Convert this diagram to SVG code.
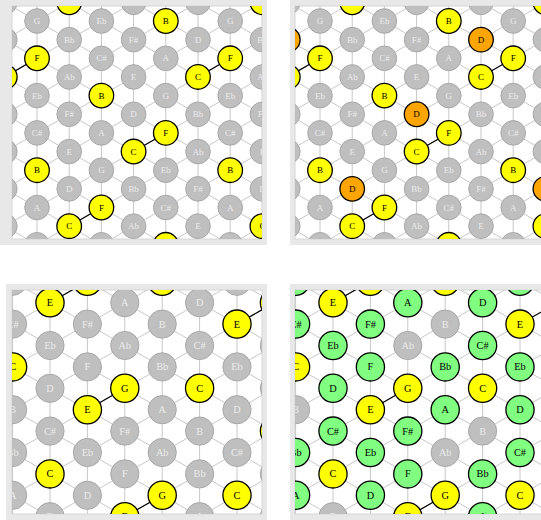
<svg xmlns="http://www.w3.org/2000/svg" xmlns:xlink="http://www.w3.org/1999/xlink" width="541" height="520" viewBox="0 0 541 520">
<style>
text{font-family:"Liberation Serif","Times New Roman",serif;text-anchor:middle;dominant-baseline:central}
.s1 text{font-size:9px}
.s3 text{font-size:10.3px}
.n circle{fill:#bfbfbf;stroke:#a8a8a8;stroke-width:1}
.n text{fill:#ececec}
.y circle{fill:#ffff00;stroke:#000;stroke-width:1.3}
.o circle{fill:#ffa500;stroke:#000;stroke-width:1.3}
.g circle{fill:#80ff80;stroke:#000;stroke-width:1.3}
.y text,.o text,.g text{fill:#000}
.lat{fill:none;stroke:#c8c8c8;stroke-width:1}
.lk{fill:none;stroke:#000;stroke-width:1.2}
.frame{fill:#e8e8e8}
.inner{fill:#fff;stroke:#d6d6d6;stroke-width:1}
</style>
<defs>
<clipPath id="c1"><rect x="12" y="6" width="250" height="233"/></clipPath>
<clipPath id="c3"><rect x="12" y="290" width="250" height="224"/></clipPath>
<path id="lat1" class="lat" d="M4.8 0V250M37 0V250M69.2 0V250M101.4 0V250M133.6 0V250M165.8 0V250M198 0V250M230.2 0V250M262.4 0V250M0 -149.63L270 6.75M0 -112.33L270 44.05M0 -75.03L270 81.35M0 -37.73L270 118.65M0 -0.43L270 155.95M0 36.87L270 193.25M0 74.17L270 230.55M0 111.47L270 267.85M0 148.77L270 305.15M0 186.07L270 342.45M0 223.37L270 379.75M0 42.43L270 -113.95M0 79.73L270 -76.65M0 117.03L270 -39.35M0 154.33L270 -2.05M0 191.63L270 35.25M0 228.93L270 72.55M0 266.23L270 109.85M0 303.53L270 147.15M0 340.83L270 184.45M0 378.13L270 221.75"/>
<path id="lat3" class="lat" d="M12.6 280V520M50 280V520M87.4 280V520M124.8 280V520M162.2 280V520M199.6 280V520M237 280V520M274.4 280V520M0 145.69L275 303.05M0 188.49L275 345.85M0 231.29L275 388.65M0 274.09L275 431.45M0 316.89L275 474.25M0 359.69L275 517.05M0 402.49L275 559.85M0 445.29L275 602.65M0 488.09L275 645.45M0 331.31L275 173.95M0 374.11L275 216.75M0 416.91L275 259.55M0 459.71L275 302.35M0 502.51L275 345.15M0 545.31L275 387.95M0 588.11L275 430.75M0 630.91L275 473.55"/>
</defs>
<rect width="541" height="520" fill="#fff"/>

<!-- Panel 1 -->
<g id="panel1" class="s1">
<rect class="frame" x="0" y="0" width="267" height="245"/>
<rect class="inner" x="12" y="6" width="250" height="233"/>
<g clip-path="url(#c1)">
<g id="p1-connectors">
<use xlink:href="#lat1" href="#lat1"/>
<path class="lk" d="M4.8 76.95L37 58.3M69.2 226.15L101.4 207.5M133.6 151.55L165.8 132.9M198 76.95L230.2 58.3"/>
</g>
<g id="p1-nodes">
<g id="p1-m1-0" class="n"><circle cx="4.8" cy="2.35" r="12.3"/><text x="4.8" y="2.35">E</text></g>
<g id="p1-m1-1" class="n"><circle cx="4.8" cy="39.65" r="12.3"/><text x="4.8" y="39.65">D</text></g>
<g id="p1-m1-2" class="y"><circle cx="4.8" cy="76.95" r="12.3"/><text x="4.8" y="76.95">C</text></g>
<g id="p1-m1-3" class="n"><circle cx="4.8" cy="114.25" r="12.3"/><text x="4.8" y="114.25">Bb</text></g>
<g id="p1-m1-4" class="n"><circle cx="4.8" cy="151.55" r="12.3"/><text x="4.8" y="151.55">Ab</text></g>
<g id="p1-m1-5" class="n"><circle cx="4.8" cy="188.85" r="12.3"/><text x="4.8" y="188.85">F#</text></g>
<g id="p1-m1-6" class="n"><circle cx="4.8" cy="226.15" r="12.3"/><text x="4.8" y="226.15">E</text></g>
<g id="p1-0-0" class="n"><circle cx="37" cy="21" r="12.3"/><text x="37" y="21">G</text></g>
<g id="p1-0-1" class="y"><circle cx="37" cy="58.3" r="12.3"/><text x="37" y="58.3">F</text></g>
<g id="p1-0-2" class="n"><circle cx="37" cy="95.6" r="12.3"/><text x="37" y="95.6">Eb</text></g>
<g id="p1-0-3" class="n"><circle cx="37" cy="132.9" r="12.3"/><text x="37" y="132.9">C#</text></g>
<g id="p1-0-4" class="y"><circle cx="37" cy="170.2" r="12.3"/><text x="37" y="170.2">B</text></g>
<g id="p1-0-5" class="n"><circle cx="37" cy="207.5" r="12.3"/><text x="37" y="207.5">A</text></g>
<g id="p1-0-6" class="n"><circle cx="37" cy="244.8" r="12.3"/><text x="37" y="244.8">G</text></g>
<g id="p1-1-0" class="y"><circle cx="69.2" cy="2.35" r="12.3"/><text x="69.2" y="2.35">C</text></g>
<g id="p1-1-1" class="n"><circle cx="69.2" cy="39.65" r="12.3"/><text x="69.2" y="39.65">Bb</text></g>
<g id="p1-1-2" class="n"><circle cx="69.2" cy="76.95" r="12.3"/><text x="69.2" y="76.95">Ab</text></g>
<g id="p1-1-3" class="n"><circle cx="69.2" cy="114.25" r="12.3"/><text x="69.2" y="114.25">F#</text></g>
<g id="p1-1-4" class="n"><circle cx="69.2" cy="151.55" r="12.3"/><text x="69.2" y="151.55">E</text></g>
<g id="p1-1-5" class="n"><circle cx="69.2" cy="188.85" r="12.3"/><text x="69.2" y="188.85">D</text></g>
<g id="p1-1-6" class="y"><circle cx="69.2" cy="226.15" r="12.3"/><text x="69.2" y="226.15">C</text></g>
<g id="p1-2-0" class="n"><circle cx="101.4" cy="21" r="12.3"/><text x="101.4" y="21">Eb</text></g>
<g id="p1-2-1" class="n"><circle cx="101.4" cy="58.3" r="12.3"/><text x="101.4" y="58.3">C#</text></g>
<g id="p1-2-2" class="y"><circle cx="101.4" cy="95.6" r="12.3"/><text x="101.4" y="95.6">B</text></g>
<g id="p1-2-3" class="n"><circle cx="101.4" cy="132.9" r="12.3"/><text x="101.4" y="132.9">A</text></g>
<g id="p1-2-4" class="n"><circle cx="101.4" cy="170.2" r="12.3"/><text x="101.4" y="170.2">G</text></g>
<g id="p1-2-5" class="y"><circle cx="101.4" cy="207.5" r="12.3"/><text x="101.4" y="207.5">F</text></g>
<g id="p1-2-6" class="n"><circle cx="101.4" cy="244.8" r="12.3"/><text x="101.4" y="244.8">Eb</text></g>
<g id="p1-3-0" class="n"><circle cx="133.6" cy="2.35" r="12.3"/><text x="133.6" y="2.35">Ab</text></g>
<g id="p1-3-1" class="n"><circle cx="133.6" cy="39.65" r="12.3"/><text x="133.6" y="39.65">F#</text></g>
<g id="p1-3-2" class="n"><circle cx="133.6" cy="76.95" r="12.3"/><text x="133.6" y="76.95">E</text></g>
<g id="p1-3-3" class="n"><circle cx="133.6" cy="114.25" r="12.3"/><text x="133.6" y="114.25">D</text></g>
<g id="p1-3-4" class="y"><circle cx="133.6" cy="151.55" r="12.3"/><text x="133.6" y="151.55">C</text></g>
<g id="p1-3-5" class="n"><circle cx="133.6" cy="188.85" r="12.3"/><text x="133.6" y="188.85">Bb</text></g>
<g id="p1-3-6" class="n"><circle cx="133.6" cy="226.15" r="12.3"/><text x="133.6" y="226.15">Ab</text></g>
<g id="p1-4-0" class="y"><circle cx="165.8" cy="21" r="12.3"/><text x="165.8" y="21">B</text></g>
<g id="p1-4-1" class="n"><circle cx="165.8" cy="58.3" r="12.3"/><text x="165.8" y="58.3">A</text></g>
<g id="p1-4-2" class="n"><circle cx="165.8" cy="95.6" r="12.3"/><text x="165.8" y="95.6">G</text></g>
<g id="p1-4-3" class="y"><circle cx="165.8" cy="132.9" r="12.3"/><text x="165.8" y="132.9">F</text></g>
<g id="p1-4-4" class="n"><circle cx="165.8" cy="170.2" r="12.3"/><text x="165.8" y="170.2">Eb</text></g>
<g id="p1-4-5" class="n"><circle cx="165.8" cy="207.5" r="12.3"/><text x="165.8" y="207.5">C#</text></g>
<g id="p1-4-6" class="y"><circle cx="165.8" cy="244.8" r="12.3"/><text x="165.8" y="244.8">B</text></g>
<g id="p1-5-0" class="n"><circle cx="198" cy="2.35" r="12.3"/><text x="198" y="2.35">E</text></g>
<g id="p1-5-1" class="n"><circle cx="198" cy="39.65" r="12.3"/><text x="198" y="39.65">D</text></g>
<g id="p1-5-2" class="y"><circle cx="198" cy="76.95" r="12.3"/><text x="198" y="76.95">C</text></g>
<g id="p1-5-3" class="n"><circle cx="198" cy="114.25" r="12.3"/><text x="198" y="114.25">Bb</text></g>
<g id="p1-5-4" class="n"><circle cx="198" cy="151.55" r="12.3"/><text x="198" y="151.55">Ab</text></g>
<g id="p1-5-5" class="n"><circle cx="198" cy="188.85" r="12.3"/><text x="198" y="188.85">F#</text></g>
<g id="p1-5-6" class="n"><circle cx="198" cy="226.15" r="12.3"/><text x="198" y="226.15">E</text></g>
<g id="p1-6-0" class="n"><circle cx="230.2" cy="21" r="12.3"/><text x="230.2" y="21">G</text></g>
<g id="p1-6-1" class="y"><circle cx="230.2" cy="58.3" r="12.3"/><text x="230.2" y="58.3">F</text></g>
<g id="p1-6-2" class="n"><circle cx="230.2" cy="95.6" r="12.3"/><text x="230.2" y="95.6">Eb</text></g>
<g id="p1-6-3" class="n"><circle cx="230.2" cy="132.9" r="12.3"/><text x="230.2" y="132.9">C#</text></g>
<g id="p1-6-4" class="y"><circle cx="230.2" cy="170.2" r="12.3"/><text x="230.2" y="170.2">B</text></g>
<g id="p1-6-5" class="n"><circle cx="230.2" cy="207.5" r="12.3"/><text x="230.2" y="207.5">A</text></g>
<g id="p1-6-6" class="n"><circle cx="230.2" cy="244.8" r="12.3"/><text x="230.2" y="244.8">G</text></g>
<g id="p1-7-0" class="y"><circle cx="262.4" cy="2.35" r="12.3"/><text x="262.4" y="2.35">C</text></g>
<g id="p1-7-1" class="n"><circle cx="262.4" cy="39.65" r="12.3"/><text x="262.4" y="39.65">Bb</text></g>
<g id="p1-7-2" class="n"><circle cx="262.4" cy="76.95" r="12.3"/><text x="262.4" y="76.95">Ab</text></g>
<g id="p1-7-3" class="n"><circle cx="262.4" cy="114.25" r="12.3"/><text x="262.4" y="114.25">F#</text></g>
<g id="p1-7-4" class="n"><circle cx="262.4" cy="151.55" r="12.3"/><text x="262.4" y="151.55">E</text></g>
<g id="p1-7-5" class="n"><circle cx="262.4" cy="188.85" r="12.3"/><text x="262.4" y="188.85">D</text></g>
<g id="p1-7-6" class="y"><circle cx="262.4" cy="226.15" r="12.3"/><text x="262.4" y="226.15">C</text></g>
</g>
</g>
</g>

<!-- Panel 2 -->
<g id="panel2" class="s1">
<rect class="frame" x="290" y="0" width="260" height="245"/>
<g transform="translate(283,0)">
<rect class="inner" x="12" y="6" width="270" height="233"/>
<g clip-path="url(#c1)">
<g id="p2-connectors">
<use xlink:href="#lat1" href="#lat1"/>
<path class="lk" d="M4.8 76.95L37 58.3M69.2 226.15L101.4 207.5M133.6 151.55L165.8 132.9M198 76.95L230.2 58.3"/>
</g>
<g id="p2-nodes">
<g id="p2-m1-0" class="n"><circle cx="4.8" cy="2.35" r="12.3"/><text x="4.8" y="2.35">E</text></g>
<g id="p2-m1-1" class="o"><circle cx="4.8" cy="39.65" r="12.3"/><text x="4.8" y="39.65">D</text></g>
<g id="p2-m1-2" class="y"><circle cx="4.8" cy="76.95" r="12.3"/><text x="4.8" y="76.95">C</text></g>
<g id="p2-m1-3" class="n"><circle cx="4.8" cy="114.25" r="12.3"/><text x="4.8" y="114.25">Bb</text></g>
<g id="p2-m1-4" class="n"><circle cx="4.8" cy="151.55" r="12.3"/><text x="4.8" y="151.55">Ab</text></g>
<g id="p2-m1-5" class="n"><circle cx="4.8" cy="188.85" r="12.3"/><text x="4.8" y="188.85">F#</text></g>
<g id="p2-m1-6" class="n"><circle cx="4.8" cy="226.15" r="12.3"/><text x="4.8" y="226.15">E</text></g>
<g id="p2-0-0" class="n"><circle cx="37" cy="21" r="12.3"/><text x="37" y="21">G</text></g>
<g id="p2-0-1" class="y"><circle cx="37" cy="58.3" r="12.3"/><text x="37" y="58.3">F</text></g>
<g id="p2-0-2" class="n"><circle cx="37" cy="95.6" r="12.3"/><text x="37" y="95.6">Eb</text></g>
<g id="p2-0-3" class="n"><circle cx="37" cy="132.9" r="12.3"/><text x="37" y="132.9">C#</text></g>
<g id="p2-0-4" class="y"><circle cx="37" cy="170.2" r="12.3"/><text x="37" y="170.2">B</text></g>
<g id="p2-0-5" class="n"><circle cx="37" cy="207.5" r="12.3"/><text x="37" y="207.5">A</text></g>
<g id="p2-0-6" class="n"><circle cx="37" cy="244.8" r="12.3"/><text x="37" y="244.8">G</text></g>
<g id="p2-1-0" class="y"><circle cx="69.2" cy="2.35" r="12.3"/><text x="69.2" y="2.35">C</text></g>
<g id="p2-1-1" class="n"><circle cx="69.2" cy="39.65" r="12.3"/><text x="69.2" y="39.65">Bb</text></g>
<g id="p2-1-2" class="n"><circle cx="69.2" cy="76.95" r="12.3"/><text x="69.2" y="76.95">Ab</text></g>
<g id="p2-1-3" class="n"><circle cx="69.2" cy="114.25" r="12.3"/><text x="69.2" y="114.25">F#</text></g>
<g id="p2-1-4" class="n"><circle cx="69.2" cy="151.55" r="12.3"/><text x="69.2" y="151.55">E</text></g>
<g id="p2-1-5" class="o"><circle cx="69.2" cy="188.85" r="12.3"/><text x="69.2" y="188.85">D</text></g>
<g id="p2-1-6" class="y"><circle cx="69.2" cy="226.15" r="12.3"/><text x="69.2" y="226.15">C</text></g>
<g id="p2-2-0" class="n"><circle cx="101.4" cy="21" r="12.3"/><text x="101.4" y="21">Eb</text></g>
<g id="p2-2-1" class="n"><circle cx="101.4" cy="58.3" r="12.3"/><text x="101.4" y="58.3">C#</text></g>
<g id="p2-2-2" class="y"><circle cx="101.4" cy="95.6" r="12.3"/><text x="101.4" y="95.6">B</text></g>
<g id="p2-2-3" class="n"><circle cx="101.4" cy="132.9" r="12.3"/><text x="101.4" y="132.9">A</text></g>
<g id="p2-2-4" class="n"><circle cx="101.4" cy="170.2" r="12.3"/><text x="101.4" y="170.2">G</text></g>
<g id="p2-2-5" class="y"><circle cx="101.4" cy="207.5" r="12.3"/><text x="101.4" y="207.5">F</text></g>
<g id="p2-2-6" class="n"><circle cx="101.4" cy="244.8" r="12.3"/><text x="101.4" y="244.8">Eb</text></g>
<g id="p2-3-0" class="n"><circle cx="133.6" cy="2.35" r="12.3"/><text x="133.6" y="2.35">Ab</text></g>
<g id="p2-3-1" class="n"><circle cx="133.6" cy="39.65" r="12.3"/><text x="133.6" y="39.65">F#</text></g>
<g id="p2-3-2" class="n"><circle cx="133.6" cy="76.95" r="12.3"/><text x="133.6" y="76.95">E</text></g>
<g id="p2-3-3" class="o"><circle cx="133.6" cy="114.25" r="12.3"/><text x="133.6" y="114.25">D</text></g>
<g id="p2-3-4" class="y"><circle cx="133.6" cy="151.55" r="12.3"/><text x="133.6" y="151.55">C</text></g>
<g id="p2-3-5" class="n"><circle cx="133.6" cy="188.85" r="12.3"/><text x="133.6" y="188.85">Bb</text></g>
<g id="p2-3-6" class="n"><circle cx="133.6" cy="226.15" r="12.3"/><text x="133.6" y="226.15">Ab</text></g>
<g id="p2-4-0" class="y"><circle cx="165.8" cy="21" r="12.3"/><text x="165.8" y="21">B</text></g>
<g id="p2-4-1" class="n"><circle cx="165.8" cy="58.3" r="12.3"/><text x="165.8" y="58.3">A</text></g>
<g id="p2-4-2" class="n"><circle cx="165.8" cy="95.6" r="12.3"/><text x="165.8" y="95.6">G</text></g>
<g id="p2-4-3" class="y"><circle cx="165.8" cy="132.9" r="12.3"/><text x="165.8" y="132.9">F</text></g>
<g id="p2-4-4" class="n"><circle cx="165.8" cy="170.2" r="12.3"/><text x="165.8" y="170.2">Eb</text></g>
<g id="p2-4-5" class="n"><circle cx="165.8" cy="207.5" r="12.3"/><text x="165.8" y="207.5">C#</text></g>
<g id="p2-4-6" class="y"><circle cx="165.8" cy="244.8" r="12.3"/><text x="165.8" y="244.8">B</text></g>
<g id="p2-5-0" class="n"><circle cx="198" cy="2.35" r="12.3"/><text x="198" y="2.35">E</text></g>
<g id="p2-5-1" class="o"><circle cx="198" cy="39.65" r="12.3"/><text x="198" y="39.65">D</text></g>
<g id="p2-5-2" class="y"><circle cx="198" cy="76.95" r="12.3"/><text x="198" y="76.95">C</text></g>
<g id="p2-5-3" class="n"><circle cx="198" cy="114.25" r="12.3"/><text x="198" y="114.25">Bb</text></g>
<g id="p2-5-4" class="n"><circle cx="198" cy="151.55" r="12.3"/><text x="198" y="151.55">Ab</text></g>
<g id="p2-5-5" class="n"><circle cx="198" cy="188.85" r="12.3"/><text x="198" y="188.85">F#</text></g>
<g id="p2-5-6" class="n"><circle cx="198" cy="226.15" r="12.3"/><text x="198" y="226.15">E</text></g>
<g id="p2-6-0" class="n"><circle cx="230.2" cy="21" r="12.3"/><text x="230.2" y="21">G</text></g>
<g id="p2-6-1" class="y"><circle cx="230.2" cy="58.3" r="12.3"/><text x="230.2" y="58.3">F</text></g>
<g id="p2-6-2" class="n"><circle cx="230.2" cy="95.6" r="12.3"/><text x="230.2" y="95.6">Eb</text></g>
<g id="p2-6-3" class="n"><circle cx="230.2" cy="132.9" r="12.3"/><text x="230.2" y="132.9">C#</text></g>
<g id="p2-6-4" class="y"><circle cx="230.2" cy="170.2" r="12.3"/><text x="230.2" y="170.2">B</text></g>
<g id="p2-6-5" class="n"><circle cx="230.2" cy="207.5" r="12.3"/><text x="230.2" y="207.5">A</text></g>
<g id="p2-6-6" class="n"><circle cx="230.2" cy="244.8" r="12.3"/><text x="230.2" y="244.8">G</text></g>
<g id="p2-7-0" class="y"><circle cx="262.4" cy="2.35" r="12.3"/><text x="262.4" y="2.35">C</text></g>
<g id="p2-7-1" class="n"><circle cx="262.4" cy="39.65" r="12.3"/><text x="262.4" y="39.65">Bb</text></g>
<g id="p2-7-2" class="n"><circle cx="262.4" cy="76.95" r="12.3"/><text x="262.4" y="76.95">Ab</text></g>
<g id="p2-7-3" class="n"><circle cx="262.4" cy="114.25" r="12.3"/><text x="262.4" y="114.25">F#</text></g>
<g id="p2-7-4" class="n"><circle cx="262.4" cy="151.55" r="12.3"/><text x="262.4" y="151.55">E</text></g>
<g id="p2-7-5" class="o"><circle cx="262.4" cy="188.85" r="12.3"/><text x="262.4" y="188.85">D</text></g>
<g id="p2-7-6" class="y"><circle cx="262.4" cy="226.15" r="12.3"/><text x="262.4" y="226.15">C</text></g>
</g>
</g>
</g>
</g>

<!-- Panel 3 -->
<g id="panel3" class="s3">
<rect class="frame" x="6" y="284" width="261" height="240"/>
<rect class="inner" x="12" y="290" width="250" height="224"/>
<g clip-path="url(#c3)">
<g id="p3-connectors">
<use xlink:href="#lat3" href="#lat3"/>
<path class="lk" d="M50 302.7L87.4 281.3M87.4 409.7L124.8 388.3M124.8 516.7L162.2 495.3M237 324.1L274.4 302.7"/>
</g>
<g id="p3-nodes">
<g id="p3-m1-0" class="n"><circle cx="12.6" cy="281.3" r="14.1"/><text x="12.6" y="281.3">D</text></g>
<g id="p3-m1-1" class="n"><circle cx="12.6" cy="324.1" r="14.1"/><text x="12.6" y="324.1">C#</text></g>
<g id="p3-m1-2" class="y"><circle cx="12.6" cy="366.9" r="14.1"/><text x="12.6" y="366.9">C</text></g>
<g id="p3-m1-3" class="n"><circle cx="12.6" cy="409.7" r="14.1"/><text x="12.6" y="409.7">B</text></g>
<g id="p3-m1-4" class="n"><circle cx="12.6" cy="452.5" r="14.1"/><text x="12.6" y="452.5">Bb</text></g>
<g id="p3-m1-5" class="n"><circle cx="12.6" cy="495.3" r="14.1"/><text x="12.6" y="495.3">A</text></g>
<g id="p3-0-0" class="y"><circle cx="50" cy="302.7" r="14.1"/><text x="50" y="302.7">E</text></g>
<g id="p3-0-1" class="n"><circle cx="50" cy="345.5" r="14.1"/><text x="50" y="345.5">Eb</text></g>
<g id="p3-0-2" class="n"><circle cx="50" cy="388.3" r="14.1"/><text x="50" y="388.3">D</text></g>
<g id="p3-0-3" class="n"><circle cx="50" cy="431.1" r="14.1"/><text x="50" y="431.1">C#</text></g>
<g id="p3-0-4" class="y"><circle cx="50" cy="473.9" r="14.1"/><text x="50" y="473.9">C</text></g>
<g id="p3-0-5" class="n"><circle cx="50" cy="516.7" r="14.1"/><text x="50" y="516.7">B</text></g>
<g id="p3-1-0" class="y"><circle cx="87.4" cy="281.3" r="14.1"/><text x="87.4" y="281.3">G</text></g>
<g id="p3-1-1" class="n"><circle cx="87.4" cy="324.1" r="14.1"/><text x="87.4" y="324.1">F#</text></g>
<g id="p3-1-2" class="n"><circle cx="87.4" cy="366.9" r="14.1"/><text x="87.4" y="366.9">F</text></g>
<g id="p3-1-3" class="y"><circle cx="87.4" cy="409.7" r="14.1"/><text x="87.4" y="409.7">E</text></g>
<g id="p3-1-4" class="n"><circle cx="87.4" cy="452.5" r="14.1"/><text x="87.4" y="452.5">Eb</text></g>
<g id="p3-1-5" class="n"><circle cx="87.4" cy="495.3" r="14.1"/><text x="87.4" y="495.3">D</text></g>
<g id="p3-2-0" class="n"><circle cx="124.8" cy="302.7" r="14.1"/><text x="124.8" y="302.7">A</text></g>
<g id="p3-2-1" class="n"><circle cx="124.8" cy="345.5" r="14.1"/><text x="124.8" y="345.5">Ab</text></g>
<g id="p3-2-2" class="y"><circle cx="124.8" cy="388.3" r="14.1"/><text x="124.8" y="388.3">G</text></g>
<g id="p3-2-3" class="n"><circle cx="124.8" cy="431.1" r="14.1"/><text x="124.8" y="431.1">F#</text></g>
<g id="p3-2-4" class="n"><circle cx="124.8" cy="473.9" r="14.1"/><text x="124.8" y="473.9">F</text></g>
<g id="p3-2-5" class="y"><circle cx="124.8" cy="516.7" r="14.1"/><text x="124.8" y="516.7">E</text></g>
<g id="p3-3-0" class="y"><circle cx="162.2" cy="281.3" r="14.1"/><text x="162.2" y="281.3">C</text></g>
<g id="p3-3-1" class="n"><circle cx="162.2" cy="324.1" r="14.1"/><text x="162.2" y="324.1">B</text></g>
<g id="p3-3-2" class="n"><circle cx="162.2" cy="366.9" r="14.1"/><text x="162.2" y="366.9">Bb</text></g>
<g id="p3-3-3" class="n"><circle cx="162.2" cy="409.7" r="14.1"/><text x="162.2" y="409.7">A</text></g>
<g id="p3-3-4" class="n"><circle cx="162.2" cy="452.5" r="14.1"/><text x="162.2" y="452.5">Ab</text></g>
<g id="p3-3-5" class="y"><circle cx="162.2" cy="495.3" r="14.1"/><text x="162.2" y="495.3">G</text></g>
<g id="p3-4-0" class="n"><circle cx="199.6" cy="302.7" r="14.1"/><text x="199.6" y="302.7">D</text></g>
<g id="p3-4-1" class="n"><circle cx="199.6" cy="345.5" r="14.1"/><text x="199.6" y="345.5">C#</text></g>
<g id="p3-4-2" class="y"><circle cx="199.6" cy="388.3" r="14.1"/><text x="199.6" y="388.3">C</text></g>
<g id="p3-4-3" class="n"><circle cx="199.6" cy="431.1" r="14.1"/><text x="199.6" y="431.1">B</text></g>
<g id="p3-4-4" class="n"><circle cx="199.6" cy="473.9" r="14.1"/><text x="199.6" y="473.9">Bb</text></g>
<g id="p3-4-5" class="n"><circle cx="199.6" cy="516.7" r="14.1"/><text x="199.6" y="516.7">A</text></g>
<g id="p3-5-0" class="n"><circle cx="237" cy="281.3" r="14.1"/><text x="237" y="281.3">F</text></g>
<g id="p3-5-1" class="y"><circle cx="237" cy="324.1" r="14.1"/><text x="237" y="324.1">E</text></g>
<g id="p3-5-2" class="n"><circle cx="237" cy="366.9" r="14.1"/><text x="237" y="366.9">Eb</text></g>
<g id="p3-5-3" class="n"><circle cx="237" cy="409.7" r="14.1"/><text x="237" y="409.7">D</text></g>
<g id="p3-5-4" class="n"><circle cx="237" cy="452.5" r="14.1"/><text x="237" y="452.5">C#</text></g>
<g id="p3-5-5" class="y"><circle cx="237" cy="495.3" r="14.1"/><text x="237" y="495.3">C</text></g>
<g id="p3-6-0" class="y"><circle cx="274.4" cy="302.7" r="14.1"/><text x="274.4" y="302.7">G</text></g>
<g id="p3-6-1" class="n"><circle cx="274.4" cy="345.5" r="14.1"/><text x="274.4" y="345.5">F#</text></g>
<g id="p3-6-2" class="n"><circle cx="274.4" cy="388.3" r="14.1"/><text x="274.4" y="388.3">F</text></g>
<g id="p3-6-3" class="y"><circle cx="274.4" cy="431.1" r="14.1"/><text x="274.4" y="431.1">E</text></g>
<g id="p3-6-4" class="n"><circle cx="274.4" cy="473.9" r="14.1"/><text x="274.4" y="473.9">Eb</text></g>
<g id="p3-6-5" class="n"><circle cx="274.4" cy="516.7" r="14.1"/><text x="274.4" y="516.7">D</text></g>
</g>
</g>
</g>

<!-- Panel 4 -->
<g id="panel4" class="s3">
<rect class="frame" x="290" y="284" width="260" height="240"/>
<g transform="translate(283,0)">
<rect class="inner" x="12" y="290" width="270" height="224"/>
<g clip-path="url(#c3)">
<g id="p4-connectors">
<use xlink:href="#lat3" href="#lat3"/>
<path class="lk" d="M50 302.7L87.4 281.3M87.4 409.7L124.8 388.3M124.8 516.7L162.2 495.3M237 324.1L274.4 302.7"/>
</g>
<g id="p4-nodes">
<g id="p4-m1-0" class="g"><circle cx="12.6" cy="281.3" r="14.1"/><text x="12.6" y="281.3">D</text></g>
<g id="p4-m1-1" class="g"><circle cx="12.6" cy="324.1" r="14.1"/><text x="12.6" y="324.1">C#</text></g>
<g id="p4-m1-2" class="y"><circle cx="12.6" cy="366.9" r="14.1"/><text x="12.6" y="366.9">C</text></g>
<g id="p4-m1-3" class="n"><circle cx="12.6" cy="409.7" r="14.1"/><text x="12.6" y="409.7">B</text></g>
<g id="p4-m1-4" class="g"><circle cx="12.6" cy="452.5" r="14.1"/><text x="12.6" y="452.5">Bb</text></g>
<g id="p4-m1-5" class="g"><circle cx="12.6" cy="495.3" r="14.1"/><text x="12.6" y="495.3">A</text></g>
<g id="p4-0-0" class="y"><circle cx="50" cy="302.7" r="14.1"/><text x="50" y="302.7">E</text></g>
<g id="p4-0-1" class="g"><circle cx="50" cy="345.5" r="14.1"/><text x="50" y="345.5">Eb</text></g>
<g id="p4-0-2" class="g"><circle cx="50" cy="388.3" r="14.1"/><text x="50" y="388.3">D</text></g>
<g id="p4-0-3" class="g"><circle cx="50" cy="431.1" r="14.1"/><text x="50" y="431.1">C#</text></g>
<g id="p4-0-4" class="y"><circle cx="50" cy="473.9" r="14.1"/><text x="50" y="473.9">C</text></g>
<g id="p4-0-5" class="n"><circle cx="50" cy="516.7" r="14.1"/><text x="50" y="516.7">B</text></g>
<g id="p4-1-0" class="y"><circle cx="87.4" cy="281.3" r="14.1"/><text x="87.4" y="281.3">G</text></g>
<g id="p4-1-1" class="g"><circle cx="87.4" cy="324.1" r="14.1"/><text x="87.4" y="324.1">F#</text></g>
<g id="p4-1-2" class="g"><circle cx="87.4" cy="366.9" r="14.1"/><text x="87.4" y="366.9">F</text></g>
<g id="p4-1-3" class="y"><circle cx="87.4" cy="409.7" r="14.1"/><text x="87.4" y="409.7">E</text></g>
<g id="p4-1-4" class="g"><circle cx="87.4" cy="452.5" r="14.1"/><text x="87.4" y="452.5">Eb</text></g>
<g id="p4-1-5" class="g"><circle cx="87.4" cy="495.3" r="14.1"/><text x="87.4" y="495.3">D</text></g>
<g id="p4-2-0" class="g"><circle cx="124.8" cy="302.7" r="14.1"/><text x="124.8" y="302.7">A</text></g>
<g id="p4-2-1" class="n"><circle cx="124.8" cy="345.5" r="14.1"/><text x="124.8" y="345.5">Ab</text></g>
<g id="p4-2-2" class="y"><circle cx="124.8" cy="388.3" r="14.1"/><text x="124.8" y="388.3">G</text></g>
<g id="p4-2-3" class="g"><circle cx="124.8" cy="431.1" r="14.1"/><text x="124.8" y="431.1">F#</text></g>
<g id="p4-2-4" class="g"><circle cx="124.8" cy="473.9" r="14.1"/><text x="124.8" y="473.9">F</text></g>
<g id="p4-2-5" class="y"><circle cx="124.8" cy="516.7" r="14.1"/><text x="124.8" y="516.7">E</text></g>
<g id="p4-3-0" class="y"><circle cx="162.2" cy="281.3" r="14.1"/><text x="162.2" y="281.3">C</text></g>
<g id="p4-3-1" class="n"><circle cx="162.2" cy="324.1" r="14.1"/><text x="162.2" y="324.1">B</text></g>
<g id="p4-3-2" class="g"><circle cx="162.2" cy="366.9" r="14.1"/><text x="162.2" y="366.9">Bb</text></g>
<g id="p4-3-3" class="g"><circle cx="162.2" cy="409.7" r="14.1"/><text x="162.2" y="409.7">A</text></g>
<g id="p4-3-4" class="n"><circle cx="162.2" cy="452.5" r="14.1"/><text x="162.2" y="452.5">Ab</text></g>
<g id="p4-3-5" class="y"><circle cx="162.2" cy="495.3" r="14.1"/><text x="162.2" y="495.3">G</text></g>
<g id="p4-4-0" class="g"><circle cx="199.6" cy="302.7" r="14.1"/><text x="199.6" y="302.7">D</text></g>
<g id="p4-4-1" class="g"><circle cx="199.6" cy="345.5" r="14.1"/><text x="199.6" y="345.5">C#</text></g>
<g id="p4-4-2" class="y"><circle cx="199.6" cy="388.3" r="14.1"/><text x="199.6" y="388.3">C</text></g>
<g id="p4-4-3" class="n"><circle cx="199.6" cy="431.1" r="14.1"/><text x="199.6" y="431.1">B</text></g>
<g id="p4-4-4" class="g"><circle cx="199.6" cy="473.9" r="14.1"/><text x="199.6" y="473.9">Bb</text></g>
<g id="p4-4-5" class="g"><circle cx="199.6" cy="516.7" r="14.1"/><text x="199.6" y="516.7">A</text></g>
<g id="p4-5-0" class="g"><circle cx="237" cy="281.3" r="14.1"/><text x="237" y="281.3">F</text></g>
<g id="p4-5-1" class="y"><circle cx="237" cy="324.1" r="14.1"/><text x="237" y="324.1">E</text></g>
<g id="p4-5-2" class="g"><circle cx="237" cy="366.9" r="14.1"/><text x="237" y="366.9">Eb</text></g>
<g id="p4-5-3" class="g"><circle cx="237" cy="409.7" r="14.1"/><text x="237" y="409.7">D</text></g>
<g id="p4-5-4" class="g"><circle cx="237" cy="452.5" r="14.1"/><text x="237" y="452.5">C#</text></g>
<g id="p4-5-5" class="y"><circle cx="237" cy="495.3" r="14.1"/><text x="237" y="495.3">C</text></g>
</g>
</g>
</g>
</g>
</svg>
